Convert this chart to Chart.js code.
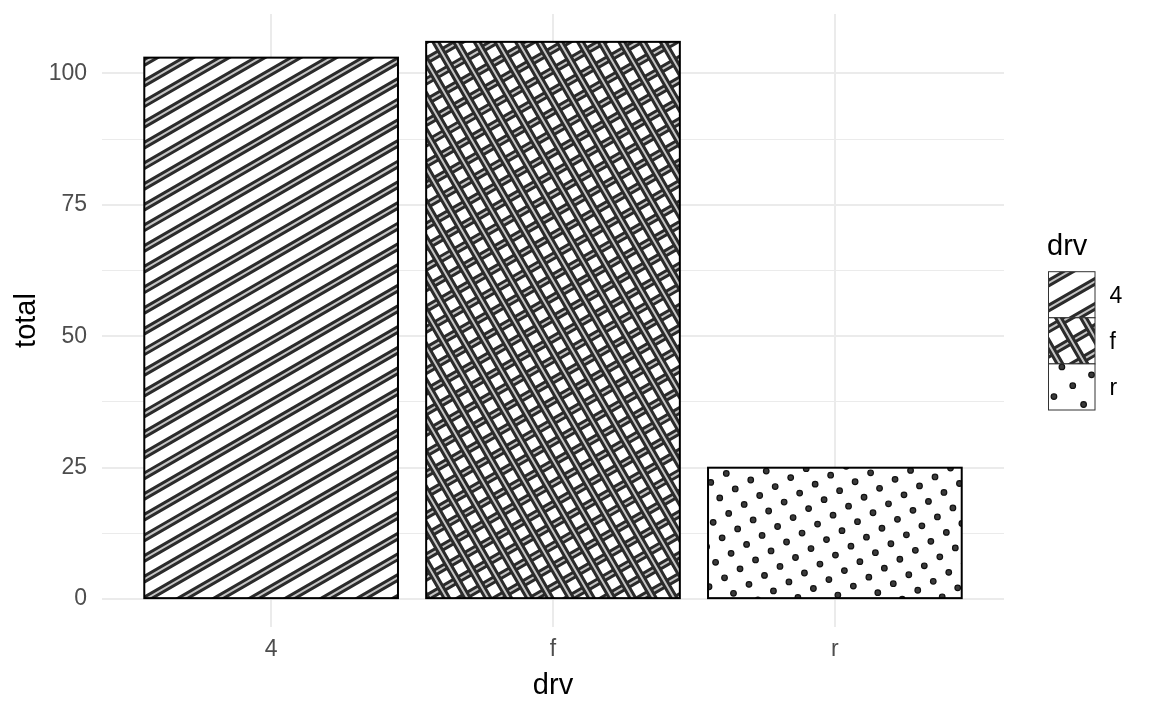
<!DOCTYPE html>
<html>
<head>
<meta charset="utf-8">
<script src="https://cdn.jsdelivr.net/npm/chart.js@4/dist/chart.umd.min.js"></script>
<style>
html,body{margin:0;padding:0;background:#ffffff;}
#wrap{width:1152px;height:711px;}
</style>
</head>
<body>
<div id="wrap"><canvas id="c" width="1152" height="711"></canvas></div>
<script>
// ---- data ----
const categories = ['4', 'f', 'r'];
const totals = [103, 106, 25];
const patternTypes = ['stripe', 'crosshatch', 'circle'];
const yMajorTicks = [0, 25, 50, 75, 100];
const yMinorTicks = [12.5, 37.5, 62.5, 87.5];
const xTitle = 'drv';
const yTitle = 'total';
const legendTitle = 'drv';

// ---- styles ----
const FONT = '"Liberation Sans", Arial, Helvetica, sans-serif';
const GRID = '#EBEBEB';
const TICK_COLOR = '#4D4D4D';
const PAT_DARK = '#2b2b2b';
const PAT_LIGHT = '#c4c4c4';
const TICK_SIZE = 23;
const TITLE_SIZE = 29;

Chart.defaults.font.family = FONT;

// pattern drawing helpers
function stripeFamily(ctx, rect, ax, ay, angleDeg, d) {
  const a = angleDeg * Math.PI / 180;
  const ux = Math.cos(a), uy = -Math.sin(a);
  const nx = Math.sin(a), ny = Math.cos(a);
  const corners = [[rect.l, rect.t], [rect.r, rect.t], [rect.l, rect.b], [rect.r, rect.b]];
  let pmin = Infinity, pmax = -Infinity;
  corners.forEach(([cx, cy]) => {
    const p = (cx - ax) * nx + (cy - ay) * ny;
    pmin = Math.min(pmin, p); pmax = Math.max(pmax, p);
  });
  const k0 = Math.floor(pmin / d) - 1, k1 = Math.ceil(pmax / d) + 1;
  const L = Math.hypot(rect.r - rect.l, rect.b - rect.t) + Math.hypot(ax - rect.l, ay - rect.t) + 50;
  [[PAT_DARK, 8], [PAT_LIGHT, 2]].forEach(([col, w]) => {
    ctx.beginPath();
    for (let k = k0; k <= k1; k++) {
      const px = ax + k * d * nx, py = ay + k * d * ny;
      ctx.moveTo(px - L * ux, py - L * uy);
      ctx.lineTo(px + L * ux, py + L * uy);
    }
    ctx.strokeStyle = col;
    ctx.lineWidth = w;
    ctx.lineCap = 'butt';
    ctx.stroke();
  });
}

function circleLattice(ctx, rect, ax, ay, angleDeg, d, rad) {
  const a = angleDeg * Math.PI / 180;
  const ux = Math.cos(a) * d, uy = -Math.sin(a) * d;
  const nx = Math.sin(a) * d, ny = Math.cos(a) * d;
  const span = Math.ceil((Math.hypot(rect.r - rect.l, rect.b - rect.t) + Math.hypot(ax - rect.l, ay - rect.t)) / d) + 2;
  for (let i = -span; i <= span; i++) {
    for (let j = -span; j <= span; j++) {
      const px = ax + i * ux + j * nx, py = ay + i * uy + j * ny;
      if (px < rect.l - 6 || px > rect.r + 6 || py < rect.t - 6 || py > rect.b + 6) continue;
      ctx.beginPath();
      ctx.arc(px, py, rad, 0, Math.PI * 2);
      ctx.fillStyle = '#3a3a3a';
      ctx.fill();
      ctx.lineWidth = 1.2;
      ctx.strokeStyle = '#111111';
      ctx.stroke();
    }
  }
}

function drawPattern(ctx, type, rect, ax, ay, d) {
  ctx.save();
  ctx.beginPath();
  ctx.rect(rect.l, rect.t, rect.r - rect.l, rect.b - rect.t);
  ctx.clip();
  ctx.fillStyle = '#ffffff';
  ctx.fillRect(rect.l, rect.t, rect.r - rect.l, rect.b - rect.t);
  if (type === 'stripe') {
    stripeFamily(ctx, rect, ax, ay, 30, d);
  } else if (type === 'crosshatch') {
    stripeFamily(ctx, rect, ax, ay, 30, d);
    stripeFamily(ctx, rect, ax, ay, 120, d);
  } else if (type === 'circle') {
    circleLattice(ctx, rect, ax, ay, 30, d, 2.8);
  }
  ctx.restore();
}

const patternPlugin = {
  id: 'patternBars',
  afterDatasetsDraw(chart) {
    const ctx = chart.ctx;
    const meta = chart.getDatasetMeta(0);
    meta.data.forEach((bar, i) => {
      const p = bar.getProps(['x', 'y', 'base', 'width'], true);
      const rect = { l: p.x - p.width / 2, r: p.x + p.width / 2, t: Math.min(p.y, p.base), b: Math.max(p.y, p.base) };
      const type = patternTypes[i];
      let ax = rect.l, ay = rect.b;
      if (type === 'stripe') { ax = rect.l + 3; ay = rect.b; }
      if (type === 'circle') { ax = rect.l + 1; ay = rect.b - 11.4; }
      drawPattern(ctx, type, rect, ax, ay, 17.9);
      ctx.save();
      ctx.lineWidth = 2;
      ctx.strokeStyle = '#000000';
      ctx.strokeRect(rect.l, rect.t, rect.r - rect.l, rect.b - rect.t);
      ctx.restore();
    });
  },
  afterDraw(chart) {
    const ctx = chart.ctx;
    ctx.save();
    ctx.fillStyle = '#000000';
    ctx.font = TITLE_SIZE + 'px ' + FONT;
    ctx.textBaseline = 'alphabetic';
    ctx.textAlign = 'left';
    ctx.fillText(legendTitle, 1047, 255);
    const kx = 1048.5, ky = 271.7, kw = 46.5, kh = 46.1;
    categories.forEach((c, i) => {
      const rect = { l: kx, r: kx + kw, t: ky + i * kh, b: ky + (i + 1) * kh };
      let ax = (rect.l + rect.r) / 2, ay = (rect.t + rect.b) / 2;
      if (patternTypes[i] === 'circle') { ax = rect.l + 13.4; ay = rect.t + 3; }
      drawPattern(ctx, patternTypes[i], rect, ax, ay, 21.7);
      ctx.lineWidth = 1;
      ctx.strokeStyle = '#333333';
      ctx.strokeRect(rect.l, rect.t, kw, kh);
      ctx.fillStyle = '#000000';
      ctx.font = TICK_SIZE + 'px ' + FONT;
      ctx.fillText(c, 1109.5, rect.t + kh / 2 + 8.5);
    });
    ctx.restore();
  }
};

const yDataMax = Math.max(...totals);
const yPad = 0.05 * (yDataMax - 0);
const xExpand = 0.6;

new Chart(document.getElementById('c'), {
  type: 'bar',
  data: {
    datasets: [{
      data: totals.map((t, i) => ({ x: i + 1, y: t })),
      backgroundColor: '#ffffff',
      borderWidth: 0,
      barPercentage: 0.9,
      categoryPercentage: 1.0
    }]
  },
  options: {
    responsive: false,
    animation: false,
    devicePixelRatio: 1,
    layout: { padding: { top: 14, right: 148, bottom: 0, left: 0 } },
    plugins: { legend: { display: false }, tooltip: { enabled: false } },
    scales: {
      x: {
        type: 'linear',
        offset: false,
        min: 1 - xExpand,
        max: categories.length + xExpand,
        afterBuildTicks: s => { s.ticks = categories.map((c, i) => ({ value: i + 1 })); },
        afterFit: s => { s.height = 84; s.paddingLeft = 0; s.paddingRight = 0; },
        ticks: {
          callback: v => categories[Math.round(v) - 1] ?? '',
          color: TICK_COLOR,
          font: { size: TICK_SIZE, family: FONT },
          padding: 9,
          autoSkip: false,
          maxRotation: 0
        },
        grid: { color: GRID, lineWidth: 2, drawTicks: false, offset: false },
        border: { display: false },
        title: { display: true, text: xTitle, color: '#000000', font: { size: TITLE_SIZE, family: FONT }, padding: { top: 0, bottom: 7.6 } }
      },
      y: {
        type: 'linear',
        min: 0 - yPad,
        max: yDataMax + yPad,
        afterBuildTicks: s => {
          s.ticks = [...yMajorTicks, ...yMinorTicks].sort((a, b) => a - b).map(v => ({ value: v }));
        },
        afterFit: s => { s.width = 102; s.paddingTop = 0; s.paddingBottom = 0; },
        ticks: {
          callback: v => yMajorTicks.includes(v) ? String(v) : '',
          color: TICK_COLOR,
          font: { size: TICK_SIZE, family: FONT },
          padding: 15
        },
        grid: {
          color: GRID,
          lineWidth: c => (c.tick && yMajorTicks.includes(c.tick.value)) ? 2 : 1,
          drawTicks: false
        },
        border: { display: false },
        title: { display: true, text: yTitle, color: '#000000', font: { size: TITLE_SIZE, family: FONT }, padding: { top: 10, bottom: 0 } }
      }
    }
  },
  plugins: [patternPlugin]
});
</script>
</body>
</html>
